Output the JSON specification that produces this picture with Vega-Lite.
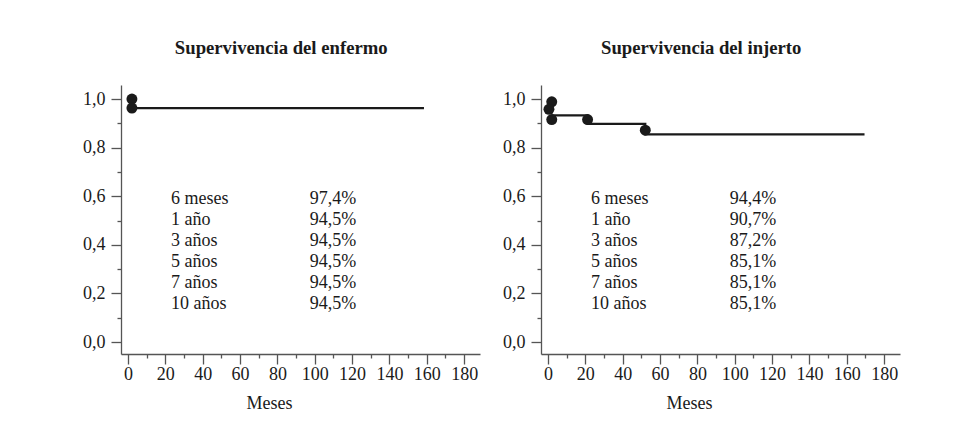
{
  "$schema": "https://vega.github.io/schema/vega-lite/v6.json",
  "background": "white",
  "padding": {"left": 82, "top": 39, "right": 5, "bottom": 5},
  "spacing": 22,
  "config": {
    "font": "Liberation Serif",
    "view": {"stroke": null},
    "axis": {
      "domainColor": "#555555",
      "domainWidth": 1.3,
      "tickColor": "#555555",
      "tickWidth": 1.3,
      "labelColor": "#1a1a1a",
      "labelFont": "Liberation Serif",
      "labelFontSize": 18,
      "titleFont": "Liberation Serif",
      "titleFontSize": 18,
      "titleFontWeight": "normal",
      "titleColor": "#1a1a1a",
      "grid": false,
      "labelOverlap": false,
      "labelFlush": false,
      "labelBound": false
    },
    "title": {
      "font": "Liberation Serif",
      "fontSize": 18.7,
      "fontWeight": "bold",
      "color": "#1a1a1a",
      "anchor": "middle",
      "frame": "bounds",
      "baseline": "alphabetic",
      "offset": 27
    }
  },
  "datasets": {
    "enf_linea": [
      {"t": 1.1, "s": 0.963},
      {"t": 158.5, "s": 0.963}
    ],
    "enf_puntos": [
      {"t": 2.1, "s": 1.0},
      {"t": 2.1, "s": 0.963}
    ],
    "enf_tabla": [
      {"fila": 1, "periodo": "6 meses", "valor": "97,4%"},
      {"fila": 2, "periodo": "1 año", "valor": "94,5%"},
      {"fila": 3, "periodo": "3 años", "valor": "94,5%"},
      {"fila": 4, "periodo": "5 años", "valor": "94,5%"},
      {"fila": 5, "periodo": "7 años", "valor": "94,5%"},
      {"fila": 6, "periodo": "10 años", "valor": "94,5%"}
    ],
    "inj_linea": [
      {"t": 2.0, "s": 0.933},
      {"t": 21.2, "s": 0.898},
      {"t": 52.1, "s": 0.855},
      {"t": 169.5, "s": 0.855}
    ],
    "inj_puntos": [
      {"t": 2.0, "s": 0.989},
      {"t": 0.5, "s": 0.958},
      {"t": 2.0, "s": 0.916},
      {"t": 21.2, "s": 0.916},
      {"t": 52.1, "s": 0.872}
    ],
    "inj_tabla": [
      {"fila": 1, "periodo": "6 meses", "valor": "94,4%"},
      {"fila": 2, "periodo": "1 año", "valor": "90,7%"},
      {"fila": 3, "periodo": "3 años", "valor": "87,2%"},
      {"fila": 4, "periodo": "5 años", "valor": "85,1%"},
      {"fila": 5, "periodo": "7 años", "valor": "85,1%"},
      {"fila": 6, "periodo": "10 años", "valor": "85,1%"}
    ]
  },
  "hconcat": [
    {
      "title": "Supervivencia del enfermo",
      "width": 359,
      "height": 269,
      "layer": [
        {
          "layer": [
            {
              "data": {"name": "enf_linea"},
              "mark": {"type": "line", "interpolate": "step-after", "color": "#1a1a1a", "strokeWidth": 2.2},
              "encoding": {
                "x": {"field": "t", "type": "quantitative", "scale": {"domain": [-3.75, 188.5], "nice": false, "zero": false},
                  "axis": {"values": [0,10,20,30,40,50,60,70,80,90,100,110,120,130,140,150,160,170,180], "labelExpr": "datum.value % 20 === 0 ? datum.label : ''", "tickSize": {"condition": {"test": "datum.value % 20 === 0", "value": 10}, "value": 4}, "labelPadding": 1, "title": "Meses", "titleX": 148, "titleY": 54, "titleBaseline": "alphabetic"}},
                "y": {"field": "s", "type": "quantitative", "scale": {"domain": [-0.049, 1.058], "nice": false, "zero": false},
                  "axis": {"values": [0,0.1,0.2,0.3,0.4,0.5,0.6,0.7,0.8,0.9,1.0], "labelExpr": "round(datum.value*10) % 2 === 0 ? replace(format(datum.value, '.1f'), '.', ',') : ''", "tickSize": {"condition": {"test": "round(datum.value*10) % 2 === 0", "value": 10}, "value": 4}, "labelPadding": 6, "title": null, "minExtent": 32, "maxExtent": 32}}
              }
            },
            {
              "data": {"name": "enf_puntos"},
              "mark": {"type": "point", "filled": true, "size": 120, "color": "#1a1a1a", "opacity": 1},
              "encoding": {
                "x": {"field": "t", "type": "quantitative", "scale": {"domain": [-3.75, 188.5], "nice": false, "zero": false},
                  "axis": {"values": [0,10,20,30,40,50,60,70,80,90,100,110,120,130,140,150,160,170,180], "labelExpr": "datum.value % 20 === 0 ? datum.label : ''", "tickSize": {"condition": {"test": "datum.value % 20 === 0", "value": 10}, "value": 4}, "labelPadding": 1, "title": "Meses", "titleX": 148, "titleY": 54, "titleBaseline": "alphabetic"}},
                "y": {"field": "s", "type": "quantitative", "scale": {"domain": [-0.049, 1.058], "nice": false, "zero": false},
                  "axis": {"values": [0,0.1,0.2,0.3,0.4,0.5,0.6,0.7,0.8,0.9,1.0], "labelExpr": "round(datum.value*10) % 2 === 0 ? replace(format(datum.value, '.1f'), '.', ',') : ''", "tickSize": {"condition": {"test": "round(datum.value*10) % 2 === 0", "value": 10}, "value": 4}, "labelPadding": 6, "title": null, "minExtent": 32, "maxExtent": 32}}
              }
            }
          ]
        },
        {
          "data": {"name": "enf_tabla"},
          "layer": [
            {
              "mark": {"type": "text", "align": "left", "baseline": "alphabetic", "fontSize": 18, "color": "#1a1a1a", "font": "Liberation Serif"},
              "encoding": {
                "x": {"datum": 23, "type": "quantitative",
                  "axis": {"values": [0,10,20,30,40,50,60,70,80,90,100,110,120,130,140,150,160,170,180], "labelExpr": "datum.value % 20 === 0 ? datum.label : ''", "tickSize": {"condition": {"test": "datum.value % 20 === 0", "value": 10}, "value": 4}, "labelPadding": 1, "title": "Meses", "titleX": 148, "titleY": 54, "titleBaseline": "alphabetic"}},
                "y": {"field": "fila", "type": "quantitative", "scale": {"domain": [-4.667, 8.143], "reverse": true, "nice": false, "zero": false}, "axis": null},
                "text": {"field": "periodo", "type": "nominal"}
              }
            },
            {
              "mark": {"type": "text", "align": "left", "baseline": "alphabetic", "fontSize": 18, "color": "#1a1a1a", "font": "Liberation Serif"},
              "encoding": {
                "x": {"datum": 97.3, "type": "quantitative",
                  "axis": {"values": [0,10,20,30,40,50,60,70,80,90,100,110,120,130,140,150,160,170,180], "labelExpr": "datum.value % 20 === 0 ? datum.label : ''", "tickSize": {"condition": {"test": "datum.value % 20 === 0", "value": 10}, "value": 4}, "labelPadding": 1, "title": "Meses", "titleX": 148, "titleY": 54, "titleBaseline": "alphabetic"}},
                "y": {"field": "fila", "type": "quantitative", "scale": {"domain": [-4.667, 8.143], "reverse": true, "nice": false, "zero": false}, "axis": null},
                "text": {"field": "valor", "type": "nominal"}
              }
            }
          ]
        }
      ],
      "resolve": {"scale": {"y": "independent"}}
    },
    {
      "title": "Supervivencia del injerto",
      "width": 359,
      "height": 269,
      "layer": [
        {
          "layer": [
            {
              "data": {"name": "inj_linea"},
              "mark": {"type": "line", "interpolate": "step-after", "color": "#1a1a1a", "strokeWidth": 2.2},
              "encoding": {
                "x": {"field": "t", "type": "quantitative", "scale": {"domain": [-3.75, 188.5], "nice": false, "zero": false},
                  "axis": {"values": [0,10,20,30,40,50,60,70,80,90,100,110,120,130,140,150,160,170,180], "labelExpr": "datum.value % 20 === 0 ? datum.label : ''", "tickSize": {"condition": {"test": "datum.value % 20 === 0", "value": 10}, "value": 4}, "labelPadding": 1, "title": "Meses", "titleX": 148, "titleY": 54, "titleBaseline": "alphabetic"}},
                "y": {"field": "s", "type": "quantitative", "scale": {"domain": [-0.049, 1.058], "nice": false, "zero": false},
                  "axis": {"values": [0,0.1,0.2,0.3,0.4,0.5,0.6,0.7,0.8,0.9,1.0], "labelExpr": "round(datum.value*10) % 2 === 0 ? replace(format(datum.value, '.1f'), '.', ',') : ''", "tickSize": {"condition": {"test": "round(datum.value*10) % 2 === 0", "value": 10}, "value": 4}, "labelPadding": 6, "title": null, "minExtent": 32, "maxExtent": 32}}
              }
            },
            {
              "data": {"name": "inj_puntos"},
              "mark": {"type": "point", "filled": true, "size": 120, "color": "#1a1a1a", "opacity": 1},
              "encoding": {
                "x": {"field": "t", "type": "quantitative", "scale": {"domain": [-3.75, 188.5], "nice": false, "zero": false},
                  "axis": {"values": [0,10,20,30,40,50,60,70,80,90,100,110,120,130,140,150,160,170,180], "labelExpr": "datum.value % 20 === 0 ? datum.label : ''", "tickSize": {"condition": {"test": "datum.value % 20 === 0", "value": 10}, "value": 4}, "labelPadding": 1, "title": "Meses", "titleX": 148, "titleY": 54, "titleBaseline": "alphabetic"}},
                "y": {"field": "s", "type": "quantitative", "scale": {"domain": [-0.049, 1.058], "nice": false, "zero": false},
                  "axis": {"values": [0,0.1,0.2,0.3,0.4,0.5,0.6,0.7,0.8,0.9,1.0], "labelExpr": "round(datum.value*10) % 2 === 0 ? replace(format(datum.value, '.1f'), '.', ',') : ''", "tickSize": {"condition": {"test": "round(datum.value*10) % 2 === 0", "value": 10}, "value": 4}, "labelPadding": 6, "title": null, "minExtent": 32, "maxExtent": 32}}
              }
            }
          ]
        },
        {
          "data": {"name": "inj_tabla"},
          "layer": [
            {
              "mark": {"type": "text", "align": "left", "baseline": "alphabetic", "fontSize": 18, "color": "#1a1a1a", "font": "Liberation Serif"},
              "encoding": {
                "x": {"datum": 23, "type": "quantitative",
                  "axis": {"values": [0,10,20,30,40,50,60,70,80,90,100,110,120,130,140,150,160,170,180], "labelExpr": "datum.value % 20 === 0 ? datum.label : ''", "tickSize": {"condition": {"test": "datum.value % 20 === 0", "value": 10}, "value": 4}, "labelPadding": 1, "title": "Meses", "titleX": 148, "titleY": 54, "titleBaseline": "alphabetic"}},
                "y": {"field": "fila", "type": "quantitative", "scale": {"domain": [-4.667, 8.143], "reverse": true, "nice": false, "zero": false}, "axis": null},
                "text": {"field": "periodo", "type": "nominal"}
              }
            },
            {
              "mark": {"type": "text", "align": "left", "baseline": "alphabetic", "fontSize": 18, "color": "#1a1a1a", "font": "Liberation Serif"},
              "encoding": {
                "x": {"datum": 97.3, "type": "quantitative",
                  "axis": {"values": [0,10,20,30,40,50,60,70,80,90,100,110,120,130,140,150,160,170,180], "labelExpr": "datum.value % 20 === 0 ? datum.label : ''", "tickSize": {"condition": {"test": "datum.value % 20 === 0", "value": 10}, "value": 4}, "labelPadding": 1, "title": "Meses", "titleX": 148, "titleY": 54, "titleBaseline": "alphabetic"}},
                "y": {"field": "fila", "type": "quantitative", "scale": {"domain": [-4.667, 8.143], "reverse": true, "nice": false, "zero": false}, "axis": null},
                "text": {"field": "valor", "type": "nominal"}
              }
            }
          ]
        }
      ],
      "resolve": {"scale": {"y": "independent"}}
    }
  ]
}
